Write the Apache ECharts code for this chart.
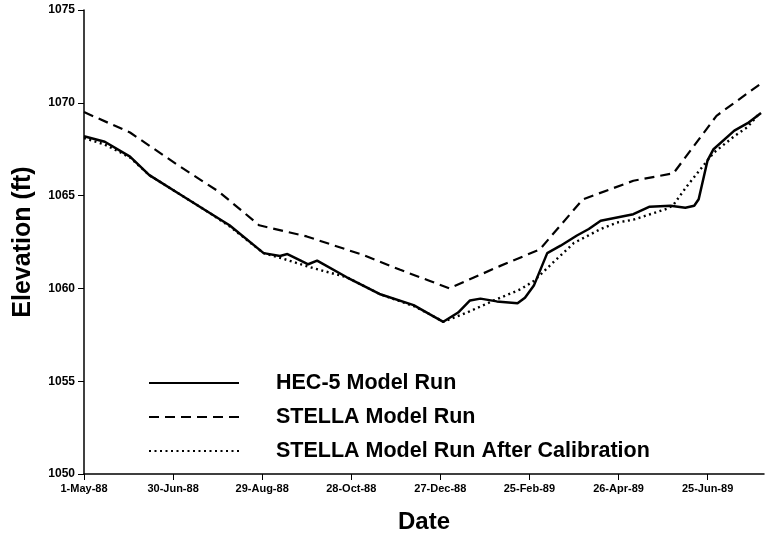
<!DOCTYPE html>
<html>
<head>
<meta charset="utf-8">
<script src="https://cdn.jsdelivr.net/npm/echarts@6/dist/echarts.min.js"></script>
<style>
  html, body { margin: 0; padding: 0; background: #fff; }
  #chart { width: 767px; height: 539px; }
</style>
</head>
<body>
<div id="chart"></div>
<script>
// x values are days since 1-May-88
var tickDays = [0, 60, 120, 180, 240, 300, 360, 420]
var tickLabels = ['1-May-88', '30-Jun-88', '29-Aug-88', '28-Oct-88', '27-Dec-88', '25-Feb-89', '26-Apr-89', '25-Jun-89']

var hecDays = [0, 14, 31, 44, 64, 82, 98, 121, 132, 137, 147, 151, 157, 177, 199, 222, 233, 242, 252, 260, 267, 278, 292, 297, 303, 312, 321, 332, 340, 348, 370, 381, 395, 405, 411, 414, 420, 424, 438, 447, 456]
var hecElev = [1068.2, 1067.9, 1067.1, 1066.1, 1065.1, 1064.2, 1063.4, 1061.9, 1061.75, 1061.85, 1061.45, 1061.3, 1061.5, 1060.6, 1059.7, 1059.1, 1058.6, 1058.2, 1058.7, 1059.35, 1059.45, 1059.3, 1059.2, 1059.5, 1060.15, 1061.9, 1062.3, 1062.85, 1063.2, 1063.65, 1064.0, 1064.4, 1064.45, 1064.35, 1064.45, 1064.8, 1066.9, 1067.5, 1068.5, 1068.9, 1069.45]

var stellaDays = [0, 31, 64, 91, 118, 150, 188, 213, 233, 246, 280, 307, 336, 370, 397, 426, 457]
var stellaElev = [1069.5, 1068.4, 1066.6, 1065.2, 1063.4, 1062.8, 1061.8, 1061.0, 1060.4, 1060.0, 1061.2, 1062.1, 1064.8, 1065.8, 1066.2, 1069.3, 1071.1]

var calibDays = [0, 14, 24, 31, 44, 64, 82, 98, 121, 132, 154, 177, 199, 222, 233, 242, 258, 276, 294, 303, 316, 330, 348, 359, 370, 393, 397, 406, 415, 424, 438, 447, 454]
var calibElev = [1068.1, 1067.75, 1067.35, 1067.05, 1066.1, 1065.1, 1064.2, 1063.35, 1061.9, 1061.65, 1061.1, 1060.6, 1059.7, 1059.05, 1058.6, 1058.2, 1058.7, 1059.35, 1059.95, 1060.4, 1061.4, 1062.45, 1063.2, 1063.55, 1063.7, 1064.3, 1064.5, 1065.5, 1066.4, 1067.3, 1068.2, 1068.7, 1069.35]

function zip(xs, ys) {
  return xs.map(function (x, i) { return [x, ys[i]] })
}

var font = 'Liberation Sans, Arial, sans-serif'
var chart = echarts.init(document.getElementById('chart'))

var option = {
  backgroundColor: '#fff',
  animation: false,
  grid: { left: 84, right: 3, top: 10, bottom: 63 },
  legend: {
    orient: 'vertical',
    left: 143,
    top: 367,
    itemWidth: 90,
    itemHeight: 14,
    itemGap: 12,
    itemStyle: { opacity: 0 },
    textStyle: { fontFamily: font, fontSize: 21.5, fontWeight: 'bold', color: '#000', padding: [0, 0, 0, 32] },
    data: ['HEC-5 Model Run', 'STELLA Model Run', 'STELLA Model Run After Calibration']
  },
  xAxis: {
    type: 'value',
    min: 0,
    max: 458,
    interval: 60,
    name: 'Date',
    nameLocation: 'middle',
    nameGap: 36,
    nameTextStyle: { fontFamily: font, fontSize: 24, fontWeight: 'bold', color: '#000' },
    axisLine: { lineStyle: { color: '#000', width: 1.5 } },
    axisTick: { length: 6, lineStyle: { color: '#000' }, customValues: tickDays },
    axisLabel: {
      customValues: tickDays,
      fontFamily: font, fontSize: 11, fontWeight: 'bold', color: '#000', margin: 9,
      formatter: function (v) { return tickLabels[tickDays.indexOf(v)] || '' }
    },
    splitLine: { show: false }
  },
  yAxis: {
    type: 'value',
    min: 1050,
    max: 1075,
    interval: 5,
    name: 'Elevation (ft)',
    nameLocation: 'middle',
    nameGap: 48,
    nameTextStyle: { fontFamily: font, fontSize: 25, fontWeight: 'bold', color: '#000' },
    axisLine: { show: true, lineStyle: { color: '#000', width: 1.5 } },
    axisTick: { show: true, length: 6, lineStyle: { color: '#000' } },
    axisLabel: {
      fontFamily: font, fontSize: 12, fontWeight: 'bold', color: '#000', margin: 9,
      formatter: function (v) { return String(v) }
    },
    splitLine: { show: false }
  },
  series: [
    {
      name: 'HEC-5 Model Run',
      type: 'line',
      symbol: 'none',
      data: zip(hecDays, hecElev),
      lineStyle: { color: '#000', width: 2.5, type: 'solid' },
      itemStyle: { color: '#000' }
    },
    {
      name: 'STELLA Model Run',
      type: 'line',
      symbol: 'none',
      data: zip(stellaDays, stellaElev),
      lineStyle: { color: '#000', width: 2.2, type: [10, 6] },
      itemStyle: { color: '#000' }
    },
    {
      name: 'STELLA Model Run After Calibration',
      type: 'line',
      symbol: 'none',
      data: zip(calibDays, calibElev),
      lineStyle: { color: '#000', width: 2.4, type: [2, 3.5] },
      itemStyle: { color: '#000' }
    }
  ]
}
chart.setOption(option)
</script>
</body>
</html>
